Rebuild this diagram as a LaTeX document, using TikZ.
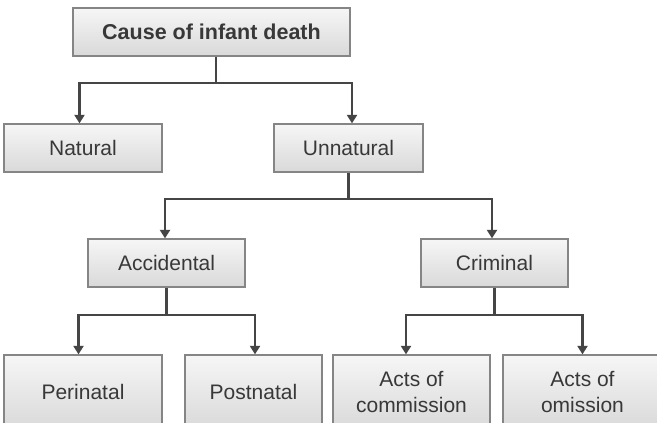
\documentclass[tikz,border=0pt]{standalone}
\usepackage{fontspec}
\setmainfont{Liberation Sans}
\usetikzlibrary{arrows.meta}
\definecolor{txt}{HTML}{383838}
\definecolor{edge}{HTML}{858585}
\definecolor{lnk}{HTML}{454545}
\definecolor{gtop}{HTML}{F6F6F6}
\definecolor{gbot}{HTML}{D9D9D9}
\tikzset{
  box/.style={draw=edge, line width=1.3pt, top color=gtop, bottom color=gbot,
    text=txt, font=\fontsize{21}{26.5}\selectfont, align=center,
    inner sep=0pt, minimum height=48pt},
  link/.style={draw=lnk, line width=2.2pt},
  arr/.style={link, -{Triangle[length=8.5pt,width=10pt]}}
}
\begin{document}
\begin{tikzpicture}[x=1pt,y=-1pt]
\clip (0,0) rectangle (657,423);
\fill[white] (0,0) rectangle (657,423);
\node[box, minimum width=277pt, font=\fontsize{21.5}{26}\selectfont\bfseries] (top) at (211.5,32) {Cause of infant death};
\node[box, minimum width=158pt] (natural) at (83,148) {Natural};
\node[box, minimum width=149pt] (unnatural) at (348.5,148) {Unnatural};
\node[box, minimum width=157pt] (accidental) at (166.5,263) {Accidental};
\node[box, minimum width=147pt] (criminal) at (494.5,263) {Criminal};
\node[box, minimum width=158pt, minimum height=74pt] (perinatal) at (83,392) {Perinatal};
\node[box, minimum width=137pt, minimum height=74pt] (postnatal) at (253.5,392) {Postnatal};
\node[box, minimum width=157pt, minimum height=74pt] (commission) at (411.5,392) {Acts of\\commission};
\node[box, minimum width=159pt, minimum height=74pt] (omission) at (582.5,392) {Acts of\\omission};
\coordinate (j1) at (216,83);
\coordinate (j2) at (348.5,199);
\coordinate (j3) at (166.5,315);
\coordinate (j4) at (494.5,315);
\draw[link] ([xshift=4.5pt]top.south) -- (j1);
\draw[arr] (j1) -| ([xshift=-3.5pt]natural.north);
\draw[arr] (j1) -| ([xshift=3.5pt]unnatural.north);
\draw[link] (unnatural.south) -- (j2);
\draw[arr] (j2) -| ([xshift=-1.5pt]accidental.north);
\draw[arr] (j2) -| ([xshift=-2.5pt]criminal.north);
\draw[link] (accidental.south) -- (j3);
\draw[arr] (j3) -| ([xshift=-4.5pt]perinatal.north);
\draw[arr] (j3) -| ([xshift=1.5pt]postnatal.north);
\draw[link] (criminal.south) -- (j4);
\draw[arr] (j4) -| ([xshift=-5.5pt]commission.north);
\draw[arr] (j4) -| (omission.north);
\end{tikzpicture}
\end{document}
